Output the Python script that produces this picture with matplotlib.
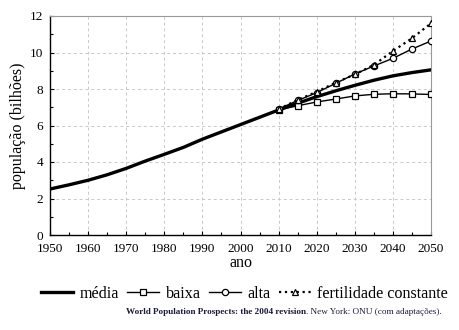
import matplotlib
matplotlib.use("Agg")
import matplotlib.pyplot as plt
from matplotlib.ticker import MultipleLocator

years_media = [1950, 1955, 1960, 1965, 1970, 1975, 1980, 1985, 1990, 1995, 2000,
               2005, 2010, 2015, 2020, 2025, 2030, 2035, 2040, 2045, 2050]
media = [2.52, 2.75, 3.0, 3.3, 3.65, 4.05, 4.42, 4.8, 5.25, 5.65, 6.05,
         6.45, 6.85, 7.22, 7.58, 7.9, 8.2, 8.48, 8.72, 8.9, 9.05]

years_proj = [2010, 2015, 2020, 2025, 2030, 2035, 2040, 2045, 2050]
baixa = [6.85, 7.08, 7.29, 7.45, 7.62, 7.71, 7.74, 7.73, 7.7]
alta = [6.9, 7.37, 7.8, 8.31, 8.82, 9.26, 9.68, 10.19, 10.63]
constante = [6.9, 7.4, 7.85, 8.35, 8.8, 9.32, 10.08, 10.78, 11.6]

labels = ["média", "baixa", "alta", "fertilidade constante"]

plt.rcParams['font.family'] = ['Liberation Serif', 'DejaVu Serif']

fig = plt.figure(figsize=(4.59, 3.30), dpi=100)
ax = fig.add_axes([50/459, 1 - 235/330, 381/459, 219/330])

ax.plot(years_media, media, color='black', lw=2.4, label=labels[0], zorder=3)
ax.plot(years_proj, baixa, color='black', lw=1.0, marker='s', ms=4.5,
        mfc='white', mec='black', mew=0.9, label=labels[1], zorder=4)
ax.plot(years_proj, alta, color='black', lw=1.0, marker='o', ms=4.5,
        mfc='white', mec='black', mew=0.9, label=labels[2], zorder=4)
ax.plot(years_proj, constante, color='black', lw=1.6, ls=':', marker='^', ms=4.5,
        mfc='white', mec='black', mew=0.9, label=labels[3], zorder=4)

ax.set_xlim(1950, 2050)
ax.set_ylim(0, 12)
ax.xaxis.set_major_locator(MultipleLocator(10))
ax.xaxis.set_minor_locator(MultipleLocator(5))
ax.yaxis.set_major_locator(MultipleLocator(2))
ax.yaxis.set_minor_locator(MultipleLocator(1))
ax.tick_params(which='both', direction='in', labelsize=9.5, length=3, width=0.8)
ax.tick_params(which='minor', length=2)
ax.tick_params(axis='x', pad=6)
ax.tick_params(axis='y', pad=5)
ax.grid(True, which='major', ls=(0, (3, 3)), color='#c8c8c8', lw=0.7)

for s in ['top', 'right']:
    ax.spines[s].set_color('#999999')
    ax.spines[s].set_linewidth(0.8)
for s in ['left', 'bottom']:
    ax.spines[s].set_color('black')
    ax.spines[s].set_linewidth(1.0)

ax.set_xlabel("ano", fontsize=11.5, labelpad=0)
ax.set_ylabel("população (bilhões)", fontsize=11.5, labelpad=3)

handles, lbls = ax.get_legend_handles_labels()
fig.legend(handles, lbls, loc='center', bbox_to_anchor=(0.533, 1 - 294/330), ncol=4,
           frameon=False, fontsize=11.6, handlelength=2.0, handletextpad=0.4,
           columnspacing=0.5, borderaxespad=0, borderpad=0)

t1 = fig.text(126/459, 1 - 312/330, "World Population Prospects: the 2004 revision",
              fontsize=6.6, fontweight='bold', color='#1a1a3a', va='center', ha='left')
fig.canvas.draw()
bb = t1.get_window_extent()
fig.text(bb.x1 / fig.bbox.width, 1 - 312/330, ". New York: ONU (com adaptações).",
         fontsize=6.6, color='#1a1a3a', va='center', ha='left')

fig.savefig("out.png", dpi=100)
